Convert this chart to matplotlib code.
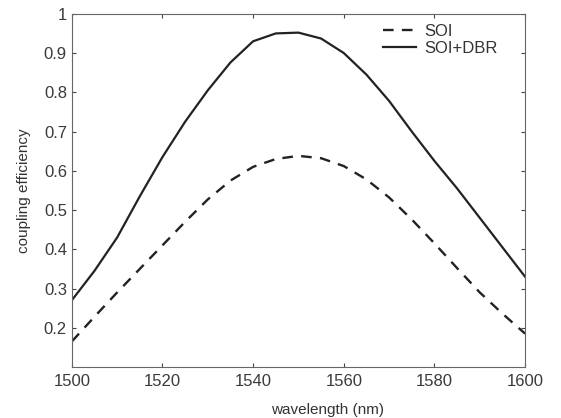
import matplotlib
matplotlib.use("Agg")
import matplotlib.pyplot as plt

# wavelength in nm
wavelength = [1500, 1505, 1510, 1515, 1520, 1525, 1530, 1535, 1540, 1545, 1550,
              1555, 1560, 1565, 1570, 1575, 1580, 1585, 1590, 1595, 1600]

# coupling efficiency
soi = [0.165, 0.228, 0.29, 0.35, 0.41, 0.47, 0.527, 0.575, 0.61, 0.63, 0.638,
       0.632, 0.612, 0.578, 0.532, 0.476, 0.415, 0.352, 0.29, 0.236, 0.185]
soi_dbr = [0.27, 0.345, 0.43, 0.535, 0.635, 0.725, 0.805, 0.876, 0.93, 0.95, 0.952,
           0.937, 0.90, 0.845, 0.778, 0.70, 0.625, 0.555, 0.48, 0.405, 0.33]

xticks = [1500, 1520, 1540, 1560, 1580, 1600]
yticks = [0.2, 0.3, 0.4, 0.5, 0.6, 0.7, 0.8, 0.9, 1]

plt.rcParams["font.family"] = ["Liberation Sans", "DejaVu Sans"]

fig = plt.figure(figsize=(5.61, 4.18), dpi=100)
ax = fig.add_axes([0.128, 0.122, 0.808, 0.845])

ax.plot(wavelength, soi, color="#222222", lw=1.7, ls=(0, (4.5, 3.5)), label="SOI")
ax.plot(wavelength, soi_dbr, color="#222222", lw=1.6, label="SOI+DBR")

ax.set_xlim(1500, 1600)
ax.set_ylim(0.1, 1)
ax.set_xticks(xticks)
ax.set_yticks(yticks)
ax.set_yticklabels(["0.2", "0.3", "0.4", "0.5", "0.6", "0.7", "0.8", "0.9", "1"])
ax.tick_params(direction="in", labelsize=12, top=True, right=True, length=3,
               colors="#444444", labelcolor="#3a3a3a")
ax.tick_params(axis="x", pad=5)
for s in ax.spines.values():
    s.set_color("#666666")
    s.set_linewidth(0.8)

ax.set_xlabel("wavelength (nm)", fontsize=11, color="#333333", labelpad=10, x=0.565)
ax.set_ylabel("coupling efficiency", fontsize=11, color="#333333", labelpad=9)

ax.legend(loc="upper right", bbox_to_anchor=(0.955, 0.99), borderaxespad=0,
          frameon=False, fontsize=12, handlelength=2.0, handletextpad=0.5,
          labelspacing=0.1, labelcolor="#333333")

fig.savefig("out.png", dpi=100)
